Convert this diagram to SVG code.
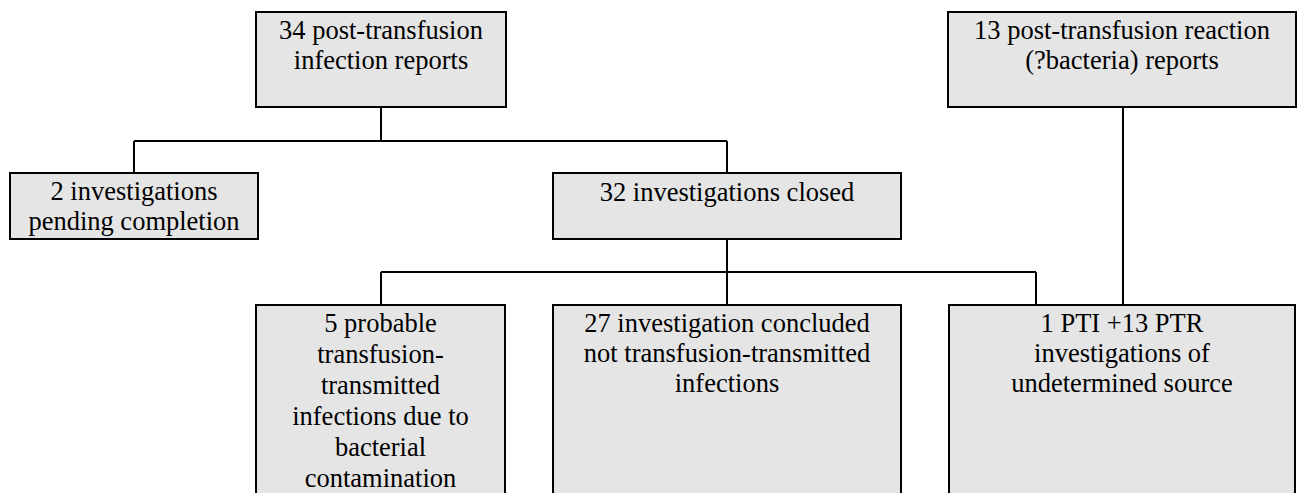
<svg xmlns="http://www.w3.org/2000/svg" width="1299" height="493" viewBox="0 0 1299 493">
  <style>
    .box { fill: #e5e5e5; stroke: #000; stroke-width: 2; }
    .lbl { font-family: 'Liberation Serif', 'Times New Roman', 'DejaVu Serif', serif; font-size: 26.5px; fill: #000; text-anchor: middle; }
    .conn { stroke: #000; stroke-width: 2; fill: none; }
  </style>
  <rect width="1299" height="493" fill="#fff"/>
  <g id="connectors">
    <path class="conn" d="M381,107 V141 M134,141 H727 M134,141 V173 M727,141 V173"/>
    <path class="conn" d="M727,239 V305 M381,272 H1036 M381,272 V305 M1036,272 V305"/>
    <path class="conn" d="M1123,107 V305"/>
  </g>
  <g id="n34">
    <rect class="box" x="256" y="12" width="250" height="95"/>
    <text class="lbl" x="381" y="39">34 post-transfusion</text>
    <text class="lbl" x="381" y="69">infection reports</text>
  </g>
  <g id="n13">
    <rect class="box" x="948" y="12" width="348" height="95"/>
    <text class="lbl" x="1122" y="39">13 post-transfusion reaction</text>
    <text class="lbl" x="1122" y="69">(?bacteria) reports</text>
  </g>
  <g id="n2">
    <rect class="box" x="10" y="173" width="248" height="66"/>
    <text class="lbl" x="134" y="200">2 investigations</text>
    <text class="lbl" x="134" y="230">pending completion</text>
  </g>
  <g id="n32">
    <rect class="box" x="553" y="173" width="348" height="66"/>
    <text class="lbl" x="727" y="201">32 investigations closed</text>
  </g>
  <g id="n5">
    <rect class="box" x="256" y="305" width="249" height="210"/>
    <text class="lbl" x="380.5" y="332">5 probable</text>
    <text class="lbl" x="380.5" y="363">transfusion-</text>
    <text class="lbl" x="380.5" y="394">transmitted</text>
    <text class="lbl" x="380.5" y="425">infections due to</text>
    <text class="lbl" x="380.5" y="456">bacterial</text>
    <text class="lbl" x="380.5" y="487">contamination</text>
  </g>
  <g id="n27">
    <rect class="box" x="553" y="305" width="348" height="210"/>
    <text class="lbl" x="727" y="332">27 investigation concluded</text>
    <text class="lbl" x="727" y="362">not transfusion-transmitted</text>
    <text class="lbl" x="727" y="392">infections</text>
  </g>
  <g id="n1">
    <rect class="box" x="949" y="305" width="346" height="210"/>
    <text class="lbl" x="1122" y="332">1 PTI +13 PTR</text>
    <text class="lbl" x="1122" y="362">investigations of</text>
    <text class="lbl" x="1122" y="392">undetermined source</text>
  </g>
</svg>
